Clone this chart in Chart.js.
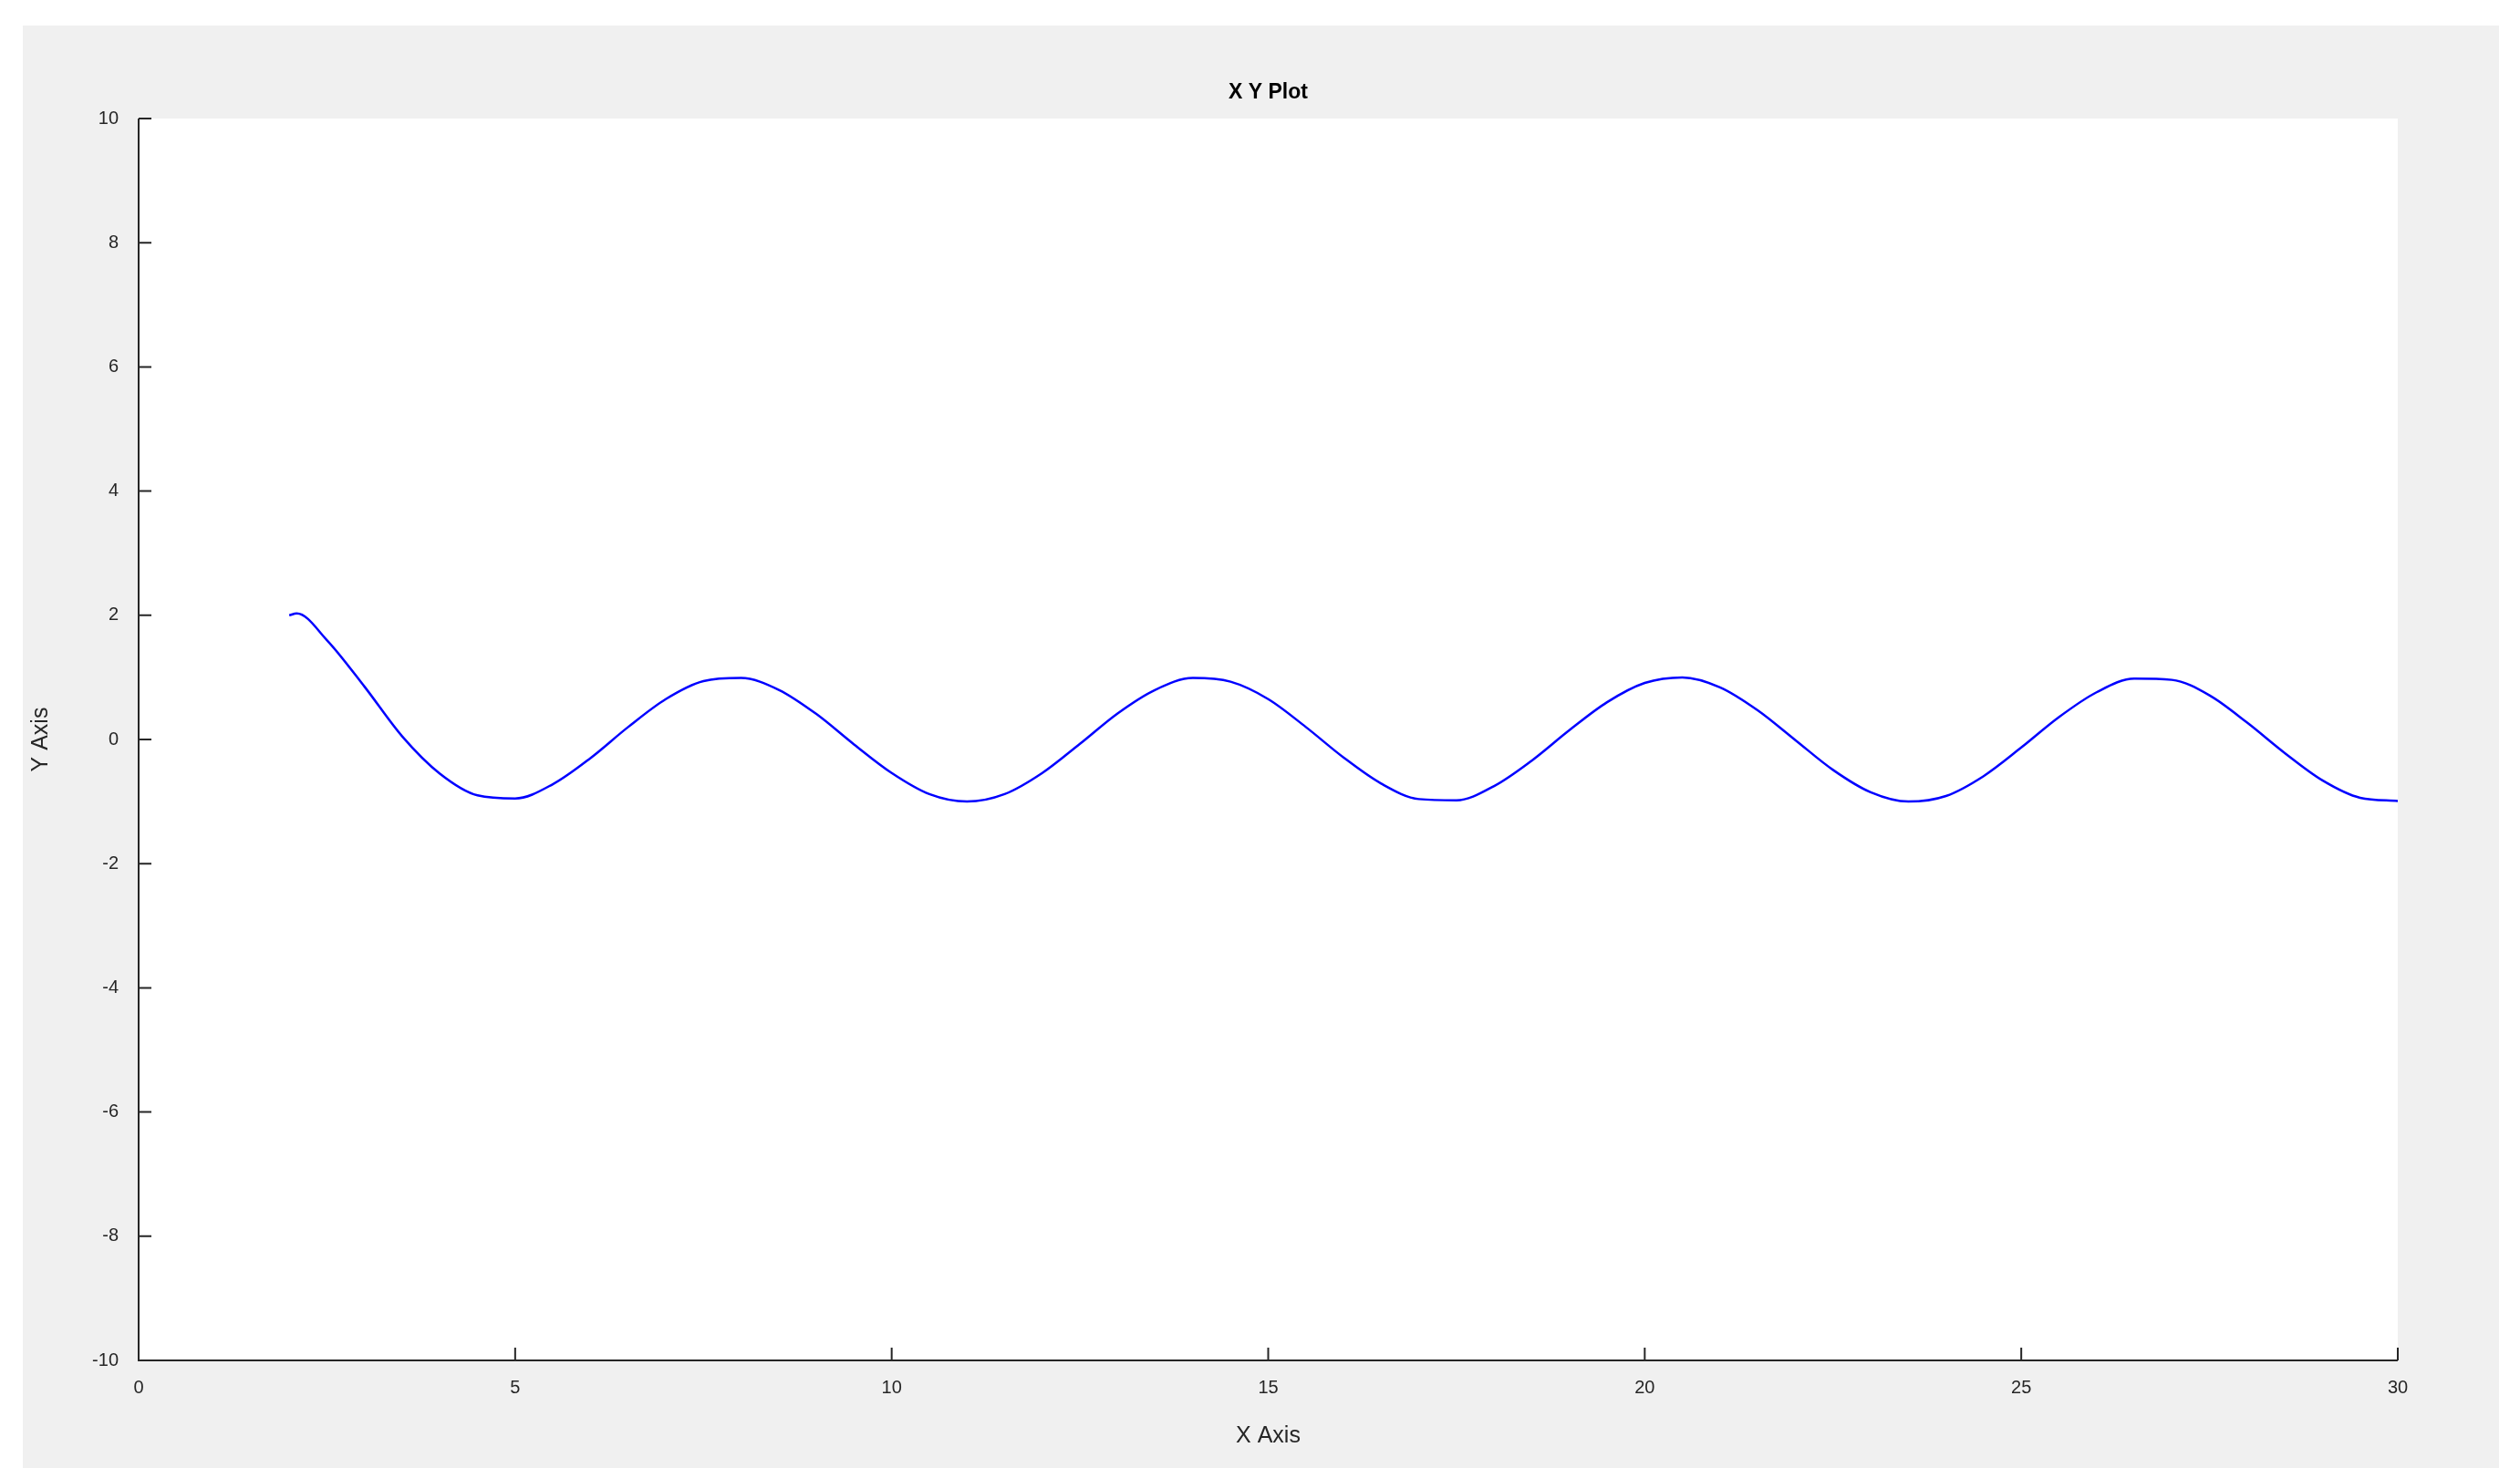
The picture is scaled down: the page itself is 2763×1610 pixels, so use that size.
<!DOCTYPE html>
<html>
<head>
<meta charset="utf-8">
<script src="https://cdn.jsdelivr.net/npm/chart.js@4/dist/chart.umd.min.js"></script>
<style>
  html, body { margin: 0; padding: 0; background: #fff; width: 2763px; height: 1610px; overflow: hidden; }
  #frame { position: absolute; left: 25px; top: 28px; width: 2715px; height: 1582px; background: #f0f0f0; }
  #c { position: absolute; left: 0; top: 0; }
</style>
</head>
<body>
<div id="frame"><canvas id="c" width="2715" height="1582"></canvas></div>
<script>
var xValues = [2, 2.1, 2.5, 3, 3.5, 4, 4.5, 5, 5.5, 6, 6.5, 7, 7.5, 8, 8.5, 9, 9.5, 10, 10.5, 11, 11.5, 12, 12.5, 13, 13.5, 14, 14.5, 15, 15.5,
    16, 16.5, 17, 17.5, 18, 18.5, 19, 19.5, 20, 20.5, 21, 21.5, 22, 22.5, 23, 23.5, 24, 24.5, 25, 25.5, 26, 26.5, 27, 27.5, 28, 28.5, 29, 29.5, 30];
var yValues = [2.0, 2.03, 1.6, 0.85, 0.05, -0.55, -0.9, -0.95, -0.72, -0.3, 0.2, 0.65, 0.94, 0.99, 0.8, 0.41, -0.08, -0.54, -0.88, -1.0, -0.88,
    -0.54, -0.07, 0.42, 0.8, 0.99, 0.93, 0.65, 0.2, -0.29, -0.71, -0.96, -0.98, -0.75, -0.34, 0.15, 0.6, 0.91, 1.0, 0.84, 0.47, -0.01,
    -0.49, -0.85, -1.0, -0.91, -0.59, -0.13, 0.36, 0.76, 0.98, 0.96, 0.71, 0.27, -0.22, -0.66, -0.94, -0.99];
var xTicks = [0, 5, 10, 15, 20, 25, 30];
var yTicks = [-10, -8, -6, -4, -2, 0, 2, 4, 6, 8, 10];

var points = xValues.map(function (x, i) { return { x: x, y: yValues[i] }; });

var decor = {
    id: 'decor',
    beforeDraw: function (chart) {
        var a = chart.chartArea, ctx = chart.ctx;
        ctx.save();
        ctx.fillStyle = '#fff';
        ctx.fillRect(a.left, a.top, a.right - a.left, a.bottom - a.top);
        ctx.restore();
    },
    afterDraw: function (chart) {
        var a = chart.chartArea, ctx = chart.ctx;
        var xs = chart.scales.x, ys = chart.scales.y;
        ctx.save();
        ctx.strokeStyle = '#262626';
        ctx.lineWidth = 2;
        ctx.beginPath();
        ctx.moveTo(a.left, a.top); ctx.lineTo(a.left, a.bottom); ctx.lineTo(a.right, a.bottom);
        // inward tick marks
        xTicks.forEach(function (t) {
            var p = xs.getPixelForValue(t);
            ctx.moveTo(p, a.bottom); ctx.lineTo(p, a.bottom - 14);
        });
        yTicks.forEach(function (t) {
            var p = ys.getPixelForValue(t);
            ctx.moveTo(a.left, p); ctx.lineTo(a.left + 14, p);
        });
        ctx.stroke();
        ctx.fillStyle = '#000';
        ctx.textAlign = 'center';
        ctx.font = 'bold 23px Arial, "Liberation Sans", sans-serif';
        ctx.fillText('X Y Plot', (a.left + a.right) / 2, 80);
        ctx.fillStyle = '#262626';
        ctx.font = '25px Arial, "Liberation Sans", sans-serif';
        ctx.textBaseline = 'middle';
        ctx.fillText('X Axis', (a.left + a.right) / 2, 1547);
        ctx.translate(20, (a.top + a.bottom) / 2);
        ctx.rotate(-Math.PI / 2);
        ctx.fillText('Y Axis', 0, 0);
        ctx.restore();
    }
};

new Chart(document.getElementById('c'), {
    type: 'scatter',
    data: {
        datasets: [{
            data: points,
            showLine: true,
            borderColor: '#0000ff',
            borderWidth: 2.5,
            pointRadius: 0,
            tension: 0.4,
            cubicInterpolationMode: 'monotone'
        }]
    },
    options: {
        responsive: false,
        animation: false,
        layout: { padding: { left: 0, top: 102, right: 111, bottom: 0 } },
        plugins: { legend: { display: false }, tooltip: { enabled: false } },
        scales: {
            x: {
                type: 'linear', min: 0, max: 30,
                afterBuildTicks: function (s) { s.ticks = xTicks.map(function (v) { return { value: v }; }); },
                afterFit: function (s) { s.height = 118; },
                grid: { display: false },
                border: { display: false },
                ticks: { color: '#262626', font: { size: 20, family: 'Arial, "Liberation Sans"' }, padding: 10, maxRotation: 0 }
            },
            y: {
                min: -10, max: 10,
                afterBuildTicks: function (s) { s.ticks = yTicks.map(function (v) { return { value: v }; }); },
                afterFit: function (s) { s.width = 127; },
                grid: { display: false },
                border: { display: false },
                ticks: { color: '#262626', font: { size: 20, family: 'Arial, "Liberation Sans"' }, padding: 14 }
            }
        }
    },
    plugins: [decor]
});
</script>
</body>
</html>
